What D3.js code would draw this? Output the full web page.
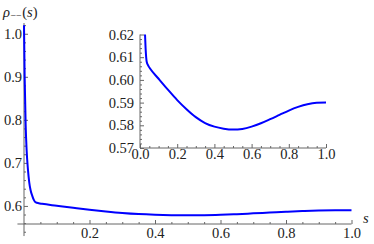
<!DOCTYPE html>
<html>
<head>
<meta charset="utf-8">
<script src="https://cdn.jsdelivr.net/npm/d3@7"></script>
<style>
  body { margin: 0; background: #fff; }
  svg { display: block; }
</style>
</head>
<body>
<div id="container"></div>
<script>
// curve rho_--(s)
const sVals = [0, 0.002, 0.005, 0.008, 0.012, 0.016, 0.02, 0.025, 0.03, 0.036, 0.045, 0.055,
  0.1, 0.15, 0.2, 0.25, 0.3, 0.35, 0.4, 0.45, 0.5, 0.55, 0.6, 0.65, 0.7, 0.75, 0.8, 0.85, 0.9, 0.95, 1.0];
const rhoVals = [1.02, 0.90, 0.79, 0.73, 0.685, 0.655, 0.637, 0.624, 0.614, 0.608, 0.6062, 0.6049,
  0.6005, 0.5957, 0.5911, 0.5871, 0.5836, 0.5810, 0.5794, 0.5785, 0.5781, 0.5784, 0.5794, 0.5809,
  0.5827, 0.5846, 0.5865, 0.5881, 0.5893, 0.5899, 0.5900];

const mainXTicks = [0.2, 0.4, 0.6, 0.8, 1.0];
const mainYTicks = [0.6, 0.7, 0.8, 0.9, 1.0];
const insetXTicks = [0, 0.2, 0.4, 0.6, 0.8, 1.0];
const insetYTicks = [0.57, 0.58, 0.59, 0.60, 0.61, 0.62];

const data = sVals.map((s, i) => ({s: s, v: rhoVals[i]}));

const serif = "'Liberation Serif', 'Times New Roman', serif";

const svg = d3.select("#container")
  .append("svg")
  .attr("width", 374)
  .attr("height", 244)
  .style("font-family", serif);

const axisCol = "#666";
const lineCol = "#0000ff";

function range(a, b, step) {
  let out = [];
  for (let v = a; v <= b + 1e-9; v += step) out.push(+v.toFixed(4));
  return out;
}

// style the tick labels the way mathematica does
function styleTicks(g) {
  g.select(".domain").remove();
  g.attr("font-family", serif).attr("font-size", 14.5);
  g.selectAll("line").attr("stroke", axisCol);
  g.selectAll("text").attr("fill", "#222").style("font-family", serif);
}

// ---------- main plot ----------
const x = d3.scaleLinear().domain([0, 1]).range([24, 351.5]);
const y = d3.scaleLinear().domain([0.558, 1.025]).range([224, 23]);

const mainG = svg.append("g");

// axis lines
mainG.append("line")
  .attr("x1", x(-0.02)).attr("x2", x(1)).attr("y1", y(0.558)).attr("y2", y(0.558))
  .attr("stroke", axisCol);
mainG.append("line")
  .attr("x1", x(0)).attr("x2", x(0)).attr("y1", y(1.025)).attr("y2", y(0.53))
  .attr("stroke", axisCol);

// x minor + major ticks
mainG.append("g")
  .attr("transform", `translate(0, ${y(0.558)})`)
  .call(d3.axisTop(x).tickValues(range(0.05, 1, 0.05).filter(v => Math.round(v * 100) % 20 != 0)).tickSize(2).tickFormat(""))
  .call(styleTicks);
const xAx = mainG.append("g")
  .attr("transform", `translate(0, ${y(0.558)})`)
  .call(d3.axisTop(x).tickValues(mainXTicks).tickSize(4).tickFormat(d3.format(".1f")))
  .call(styleTicks);
xAx.selectAll("text").attr("y", 14).attr("dy", 0);

// y minor + major ticks
mainG.append("g")
  .attr("transform", `translate(${x(0)}, 0)`)
  .call(d3.axisRight(y).tickValues(range(0.54, 1.02, 0.02).filter(v => Math.round(v * 100) % 10 != 0)).tickSize(2).tickFormat(""))
  .call(styleTicks);
const yAx = mainG.append("g")
  .attr("transform", `translate(${x(0)}, 0)`)
  .call(d3.axisRight(y).tickValues(mainYTicks).tickSize(4).tickFormat(d3.format(".1f")))
  .call(styleTicks);
yAx.selectAll("text").attr("x", -2).attr("text-anchor", "end");

const line = d3.line().x(d => x(d.s)).y(d => y(d.v)).curve(d3.curveMonotoneX);
mainG.append("path")
  .datum(data)
  .attr("d", line)
  .attr("fill", "none")
  .attr("stroke", lineCol)
  .attr("stroke-width", 2);

// axis labels
const lab = svg.append("text")
  .attr("x", 3).attr("y", 17)
  .style("font-family", serif)
  .attr("font-size", 14.5)
  .attr("fill", "#222");
lab.append("tspan").attr("font-style", "italic").text("ρ");
lab.append("tspan").attr("font-size", 10).attr("dy", 2).attr("dx", 0.5).text("−−");
lab.append("tspan").attr("dy", -2).attr("dx", 0.5).text("(");
lab.append("tspan").attr("font-style", "italic").text("s");
lab.append("tspan").text(")");

svg.append("text")
  .attr("x", 363).attr("y", 223)
  .style("font-family", serif)
  .attr("font-size", 14.5)
  .attr("font-style", "italic")
  .attr("fill", "#222")
  .text("s");

// ---------- inset ----------
const xi = d3.scaleLinear().domain([0, 1]).range([140, 326]);
const yi = d3.scaleLinear().domain([0.57, 0.62]).range([148, 34.5]);

const inG = svg.append("g");

svg.append("clipPath").attr("id", "insetClip")
  .append("rect")
  .attr("x", xi(0)).attr("y", yi(0.62))
  .attr("width", xi(1.05) - xi(0)).attr("height", yi(0.57) - yi(0.62));

inG.append("line")
  .attr("x1", xi(0)).attr("x2", xi(1)).attr("y1", yi(0.57)).attr("y2", yi(0.57))
  .attr("stroke", axisCol);
inG.append("line")
  .attr("x1", xi(0)).attr("x2", xi(0)).attr("y1", yi(0.62)).attr("y2", yi(0.57))
  .attr("stroke", axisCol);

inG.append("g")
  .attr("transform", `translate(0, ${yi(0.57)})`)
  .call(d3.axisTop(xi).tickValues(range(0.05, 1, 0.05).filter(v => Math.round(v * 100) % 20 != 0)).tickSize(2).tickFormat(""))
  .call(styleTicks);
const xiAx = inG.append("g")
  .attr("transform", `translate(0, ${yi(0.57)})`)
  .call(d3.axisTop(xi).tickValues(insetXTicks).tickSize(4).tickFormat(d3.format(".1f")))
  .call(styleTicks);
xiAx.selectAll("text").attr("y", 10.5).attr("dy", 0);

inG.append("g")
  .attr("transform", `translate(${xi(0)}, 0)`)
  .call(d3.axisRight(yi).tickValues(range(0.572, 0.618, 0.002).filter(v => Math.round(v * 1000) % 10 != 0)).tickSize(2).tickFormat(""))
  .call(styleTicks);
const yiAx = inG.append("g")
  .attr("transform", `translate(${xi(0)}, 0)`)
  .call(d3.axisRight(yi).tickValues(insetYTicks).tickSize(4).tickFormat(d3.format(".2f")))
  .call(styleTicks);
yiAx.selectAll("text").attr("x", -6).attr("text-anchor", "end");

const lineI = d3.line().x(d => xi(d.s)).y(d => yi(d.v)).curve(d3.curveMonotoneX);
inG.append("path")
  .datum(data)
  .attr("d", lineI)
  .attr("clip-path", "url(#insetClip)")
  .attr("fill", "none")
  .attr("stroke", lineCol)
  .attr("stroke-width", 2);
</script>
</body>
</html>
